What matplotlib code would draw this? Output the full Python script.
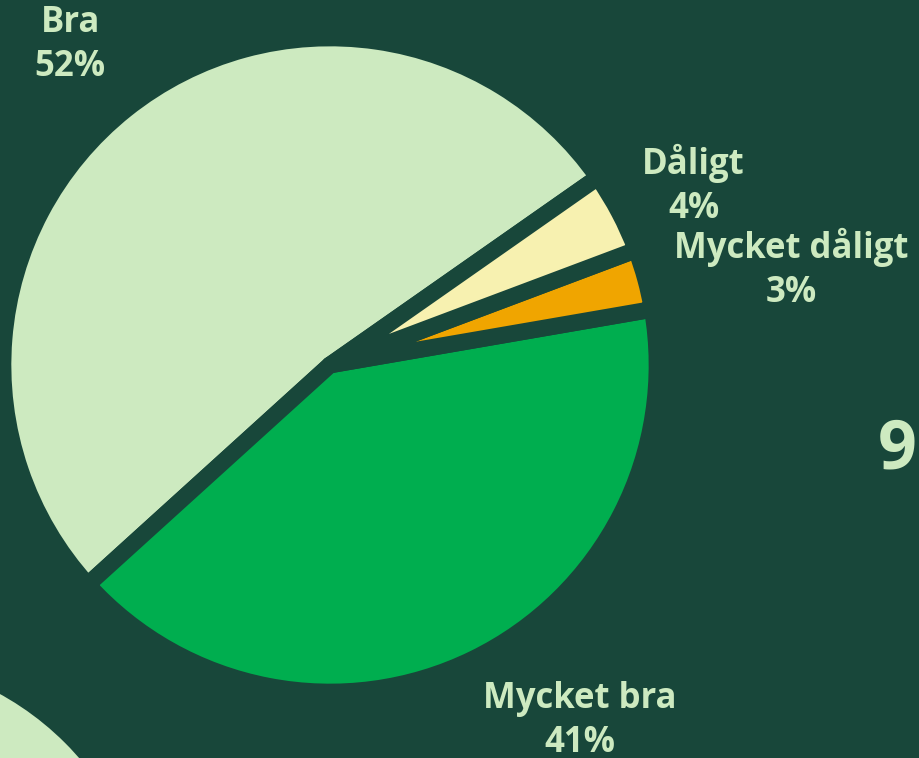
import numpy as np
import matplotlib.pyplot as plt

bg = '#18473A'
txt = '#CDEAC0'

labels = ['Bra', 'Mycket bra', 'Mycket dåligt', 'Dåligt']
values = [52, 41, 3, 4]
colors = ['#CDEAC0', '#00AE4F', '#F0A500', '#F7F1B0']
# where each label sits: distance in radii and a turn (degrees) off the wedge middle
label_r = [1.26, 1.33, 1.44, 1.24]
label_turn = [0.5, 9.0, -3.5, -1.5]

plt.rcParams['font.family'] = ['Open Sans', 'DejaVu Sans']

fig = plt.figure(figsize=(9.19, 7.58), dpi=100, facecolor=bg)
W, H = 919, 758
cx, cy, r = 330, 365, 327
ax = fig.add_axes([(cx - r) / W, (H - cy - r) / H, 2 * r / W, 2 * r / H])
ax.set_facecolor(bg)
wedges, _ = ax.pie(values, colors=colors, startangle=35, counterclock=True,
                   radius=1.0, wedgeprops=dict(edgecolor=bg, linewidth=12,
                                               joinstyle='round'))
ax.set_xlim(-1, 1)
ax.set_ylim(-1, 1)
ax.set_aspect('auto')
ax.axis('off')

total = sum(values)
for w, lab, v, lr, dt in zip(wedges, labels, values, label_r, label_turn):
    ang = np.deg2rad((w.theta1 + w.theta2) / 2 + dt)
    x, y = lr * np.cos(ang), lr * np.sin(ang)
    ax.text(x, y, f'{lab}\n{round(v / total * 100)}%', ha='center', va='center',
            color=txt, fontsize=25, fontweight='bold', linespacing=1.3,
            clip_on=False)

# piece of the next chart peeking in at the lower left
ax2 = fig.add_axes([(-140 - 290) / W, (H - 948 - 290) / H, 580 / W, 580 / H])
ax2.pie([1], colors=['#CDEAC0'], radius=1.0)
ax2.set_xlim(-1, 1)
ax2.set_ylim(-1, 1)
ax2.set_aspect('auto')
ax2.axis('off')

fig.text(878 / W, 1 - 450 / H, '9', color=txt, fontsize=49, fontweight='bold',
         ha='left', va='center')

fig.savefig('out.png', dpi=100, facecolor=bg)
